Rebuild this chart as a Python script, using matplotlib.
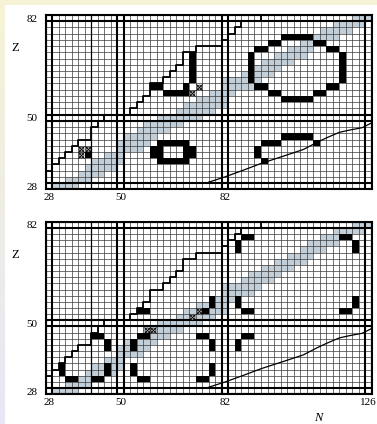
import numpy as np
import matplotlib.pyplot as plt
from matplotlib.patches import Rectangle

plt.rcParams['font.family'] = ['Liberation Serif', 'DejaVu Serif']

magic = [28, 50, 82, 126]

# stable even-even nuclei: proton number with lightest / heaviest stable N
stable_z = [28, 30, 32, 34, 36, 38, 40, 42, 44, 46, 48, 50, 52, 54,
            56, 58, 60, 62, 64, 66, 68, 70, 72, 74, 76, 78, 80, 82]
stable_n_lo = [30, 34, 38, 40, 42, 46, 50, 50, 52, 56, 58, 62, 68, 70,
               74, 78, 82, 82, 88, 90, 94, 98, 102, 106, 108, 112, 116, 122]
stable_n_hi = [36, 40, 44, 48, 50, 50, 56, 58, 60, 64, 68, 74, 78, 82,
               82, 84, 90, 92, 96, 98, 102, 106, 108, 112, 116, 120, 124, 126]

# proton drip line (staircase along cell edges)
pdrip_n = [27, 29, 29, 31, 31, 33, 33, 35, 35, 37, 37, 41, 41, 43, 43, 45, 45,
           53, 53, 55, 55, 57, 57, 59, 59, 63, 63, 65, 65, 67, 67, 69, 69, 73,
           73, 77, 77, 81, 81, 83, 83, 85, 85, 87, 87, 93, 93]
pdrip_z = [33, 33, 35, 35, 37, 37, 39, 39, 41, 41, 43, 43, 47, 47, 49, 49, 51,
           51, 53, 53, 55, 55, 57, 57, 61, 61, 63, 63, 65, 65, 67, 67, 71, 71,
           73, 73, 73, 73, 75, 75, 77, 77, 79, 79, 81, 81, 83]

# two-neutron drip line
ndrip_n = [77, 82, 88, 93, 100, 106, 110, 113, 117, 120, 124, 127]
ndrip_z = [29.3, 31.0, 33.3, 35.3, 37.7, 39.8, 42.0, 43.5, 45.3, 46.0, 46.8, 48.4]

# upper chart: islands
top_blk_n = [40,
             60, 62, 64, 66, 68, 70, 70, 72, 72, 72, 72, 72,
             62, 64, 66, 68, 70, 60, 62, 70, 72, 60, 62, 70, 72, 62, 64, 66, 68, 70,
             100, 102, 104, 106, 108, 96, 98, 110, 112, 92, 94, 114, 116,
             90, 90, 90, 90, 90, 118, 118, 118, 118, 118,
             92, 94, 114, 116, 96, 98, 110, 112, 100, 102, 104, 106, 108,
             100, 102, 104, 106, 108, 94, 96, 98, 92, 92, 94, 110]
top_blk_z = [38,
             60, 60, 58, 58, 58, 58, 60, 62, 64, 66, 68, 70,
             42, 42, 42, 42, 42, 40, 40, 40, 40, 38, 38, 38, 38, 36, 36, 36, 36, 36,
             76, 76, 76, 76, 76, 74, 74, 74, 74, 72, 72, 72, 72,
             62, 64, 66, 68, 70, 62, 64, 66, 68, 70,
             60, 60, 60, 60, 58, 58, 58, 58, 56, 56, 56, 56, 56,
             44, 44, 44, 44, 44, 42, 42, 42, 40, 38, 36, 42]
top_crs_n = [38, 40, 38, 72, 74]
top_crs_z = [40, 40, 38, 58, 60]

# lower chart: corners of the islands
bot_blk_n = [42, 44, 46, 46, 32, 32, 34, 36, 42, 44, 46, 46,
             56, 58, 54, 54, 74, 76, 78, 78, 54, 54, 56, 58, 74, 76, 78, 78,
             56, 58, 76, 78, 78,
             88, 90, 86, 86, 118, 120, 122, 122, 86, 86, 88, 90, 118, 120, 122, 122,
             88, 90, 86, 86]
bot_blk_z = [46, 46, 44, 42, 34, 36, 32, 32, 32, 32, 34, 36,
             46, 46, 44, 42, 46, 46, 44, 42, 36, 34, 32, 32, 32, 32, 36, 34,
             54, 54, 54, 56, 58,
             78, 78, 76, 74, 78, 78, 76, 74, 58, 56, 54, 54, 54, 54, 58, 56,
             46, 46, 44, 42]
bot_crs_n = [58, 60, 72, 74]
bot_crs_z = [48, 48, 52, 54]

band_color = '#c2cfd9'
W, H = 377, 424


def draw_chart(ax, blk_n, blk_z, crs_n, crs_z, xticks):
    ax.set_xlim(27, 127)
    ax.set_ylim(27, 83)
    for z, lo, hi in zip(stable_z, stable_n_lo, stable_n_hi):
        for n in range(lo, hi + 1, 2):
            ax.add_patch(Rectangle((n - 1, z - 1), 2, 2, fc=band_color, ec='none', zorder=1))
    for n, z in zip(blk_n, blk_z):
        ax.add_patch(Rectangle((n - 1, z - 1), 2, 2, fc='black', ec='none', zorder=3))
    for n in range(29, 127, 2):
        ax.axvline(n, color='#3a3a3a', lw=0.5, zorder=2)
    for z in range(29, 83, 2):
        ax.axhline(z, color='#3a3a3a', lw=0.5, zorder=2)
    for m in magic:
        ax.axvline(m - 1, color='black', lw=1.5, zorder=4)
        ax.axvline(m + 1, color='black', lw=1.5, zorder=4)
        if m < 126:
            ax.axhline(m - 1, color='black', lw=1.5, zorder=4)
            ax.axhline(m + 1, color='black', lw=1.5, zorder=4)
    ax.axvline(41, color='black', lw=0.9, zorder=4)
    ax.plot(pdrip_n, pdrip_z, color='black', lw=1.3, zorder=5)
    ax.plot(ndrip_n, ndrip_z, color='black', lw=0.9, zorder=5)
    ax.plot(crs_n, crs_z, ls='none', marker='o', ms=3.5, mfc='white', mec='black', mew=0.5, zorder=6)
    ax.plot(crs_n, crs_z, ls='none', marker='x', ms=4.5, mec='black', mew=0.7, zorder=7)
    for s in ax.spines.values():
        s.set_linewidth(1.5)
    ax.set_xticks(xticks)
    ax.set_xticklabels([str(t) for t in xticks])
    ax.set_yticks([28, 50, 82])
    ax.set_yticklabels(['28', '50', '82'])
    ax.tick_params(length=0, labelsize=8)
    ax.tick_params(axis='x', pad=3)
    ax.tick_params(axis='y', pad=6)


fig = plt.figure(figsize=(W / 100, H / 100), dpi=100)

# slide background: yellow along the top, fading to lavender down the left edge
bg = fig.add_axes([0, 0, 1, 1], zorder=-5)
t = np.linspace(0, 1, H)[:, None, None]
yellow = np.array([0.965, 0.953, 0.835])
lavender = np.array([0.905, 0.905, 0.965])
grad = (1 - t) * yellow + t * lavender
grad = np.repeat(grad, W, axis=1)
bg.imshow(grad, extent=[0, W, H, 0], aspect='auto')
bg.add_patch(Rectangle((5, 5), W, H, fc='white', ec='none'))
bg.set_xlim(0, W)
bg.set_ylim(H, 0)
bg.axis('off')


def px_axes(x0, y0, x1, y1):
    return fig.add_axes([x0 / W, 1 - y1 / H, (x1 - x0) / W, (y1 - y0) / H])


ax_top = px_axes(45.5, 15, 372, 189.3)
ax_bot = px_axes(45.5, 221.7, 372, 394.3)

draw_chart(ax_top, top_blk_n, top_blk_z, top_crs_n, top_crs_z, [28, 50, 82])
draw_chart(ax_bot, bot_blk_n, bot_blk_z, bot_crs_n, bot_crs_z, [28, 50, 82, 126])

fig.text(15 / W, 1 - 48 / H, 'Z', fontsize=9, ha='center', va='center')
fig.text(15 / W, 1 - 255 / H, 'Z', fontsize=9, ha='center', va='center')
fig.text(318 / W, 1 - 418 / H, 'N', fontsize=9, style='italic', ha='center', va='center')

fig.savefig('out.png', dpi=100)
